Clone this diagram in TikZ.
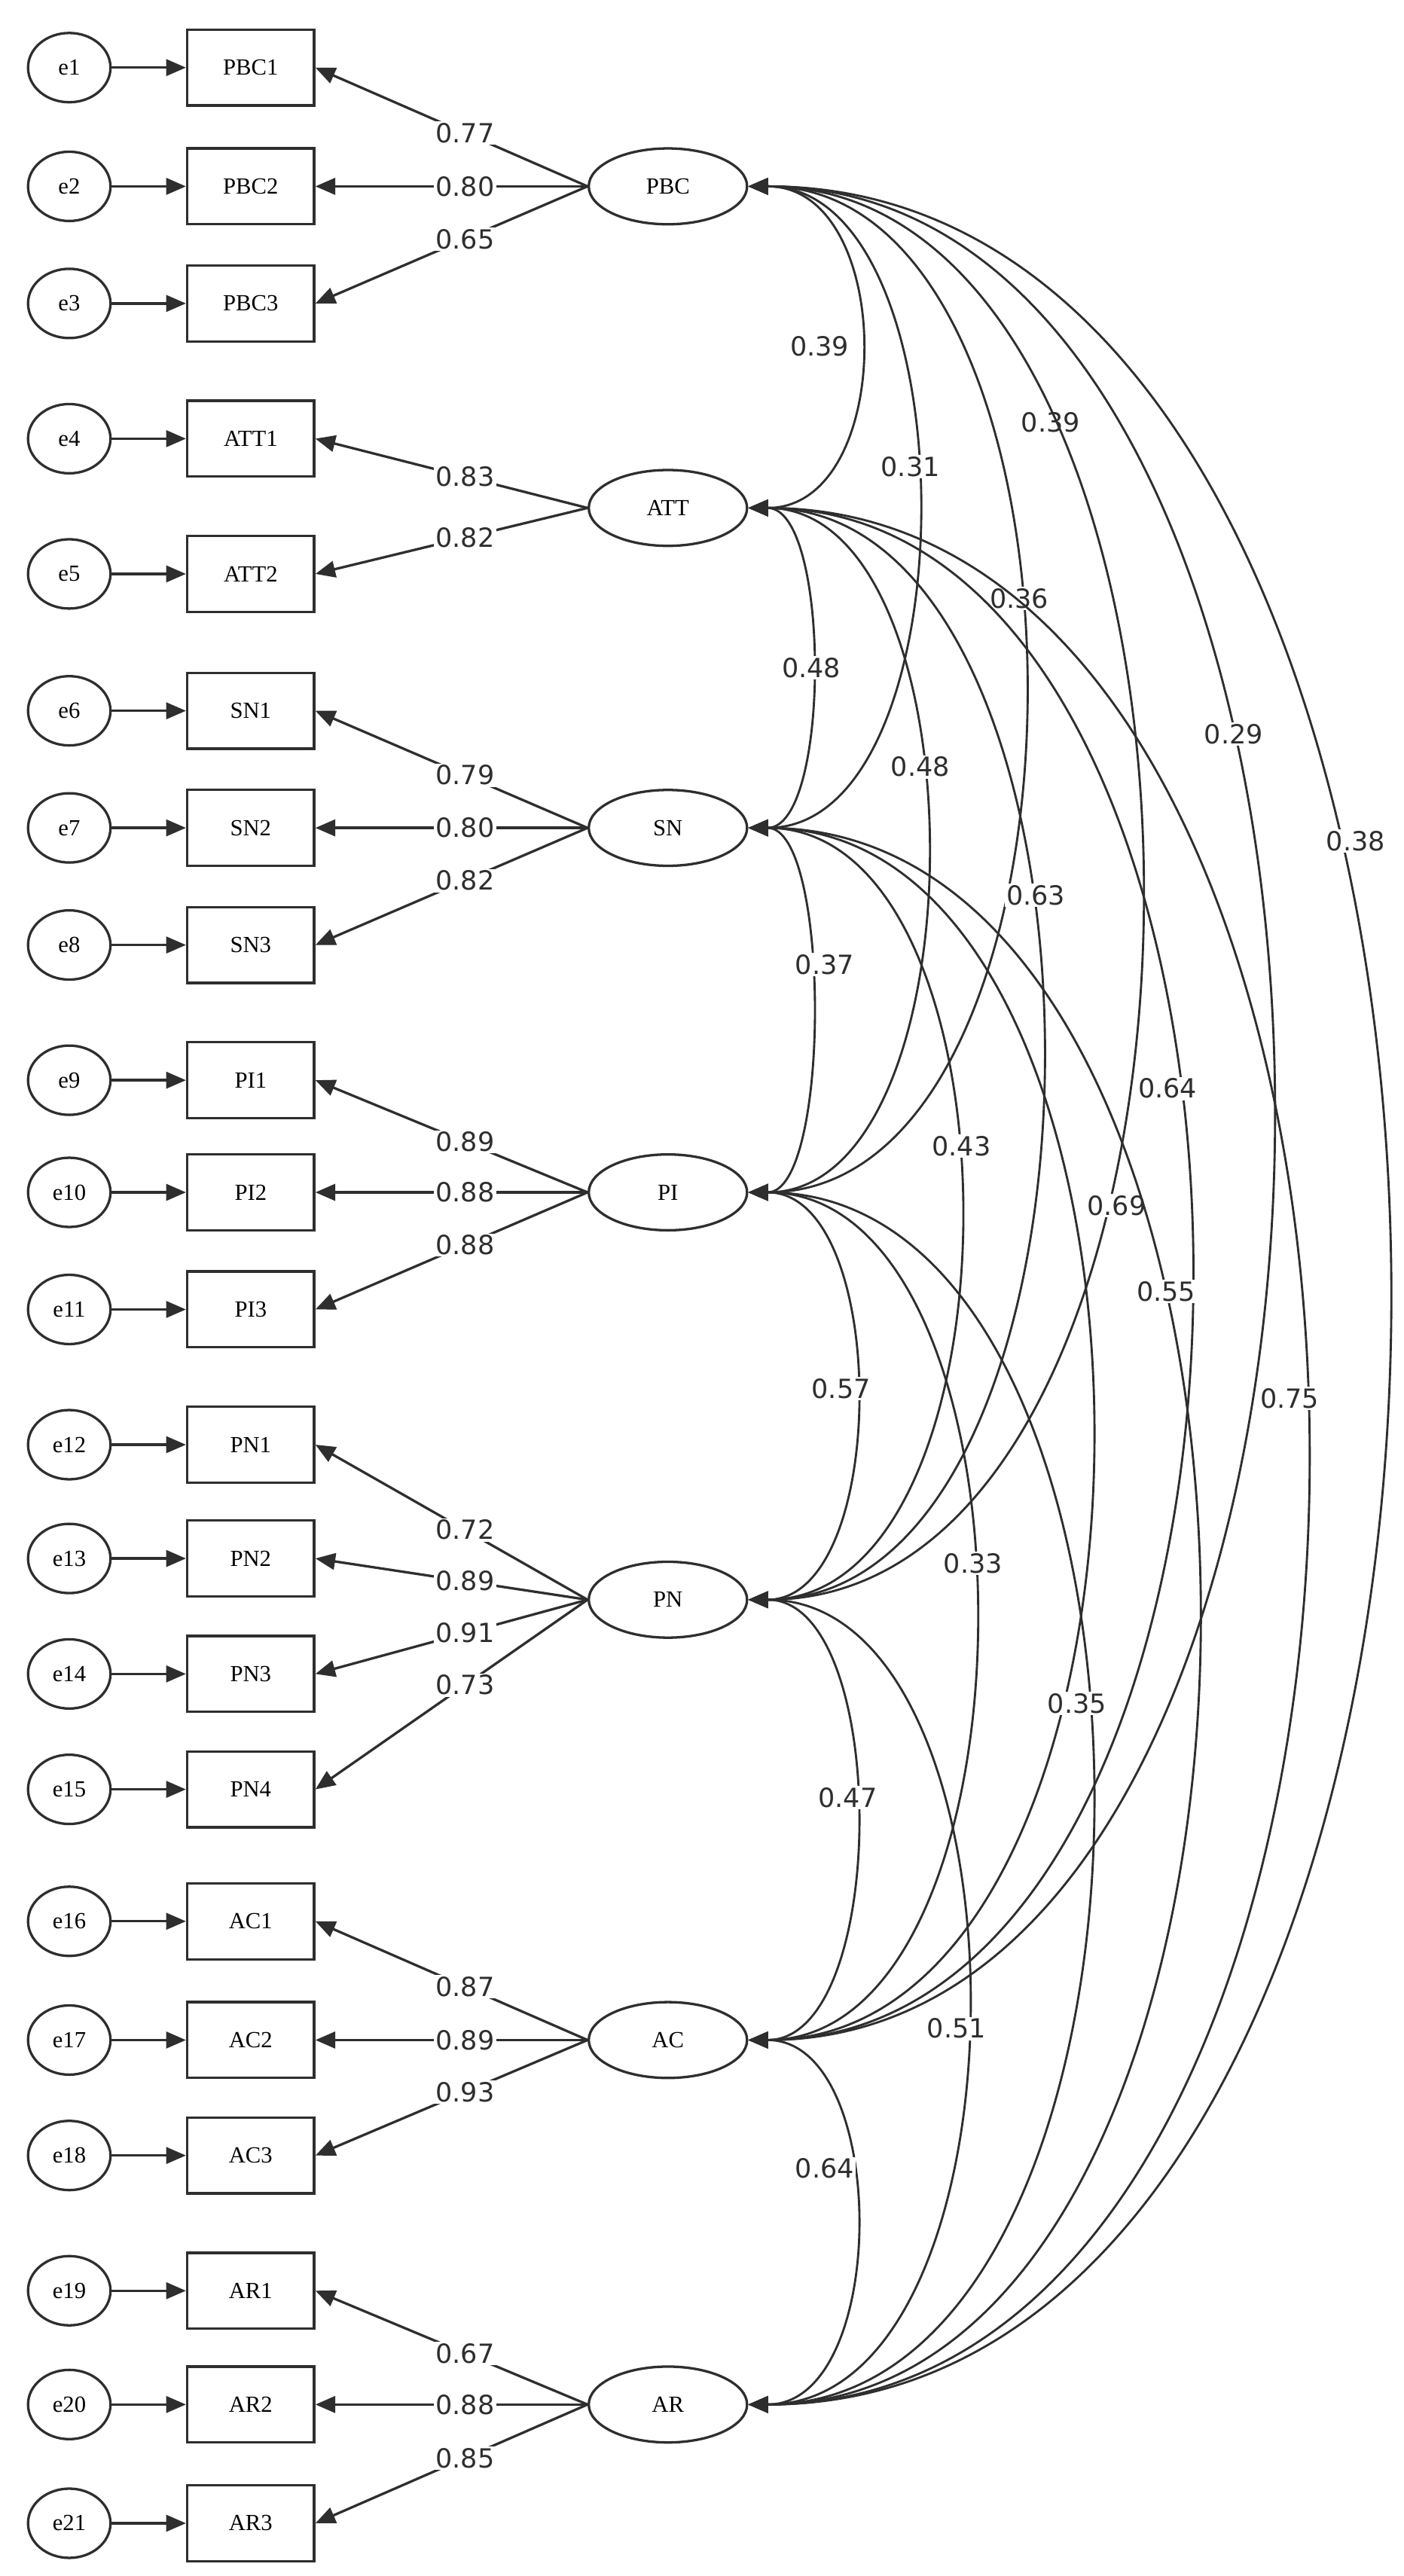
\documentclass[tikz,border=0pt]{standalone}
\usepackage{fontspec}
\setmainfont{Liberation Serif}
\newfontfamily\lab{DejaVu Sans}
\usetikzlibrary{arrows.meta,shapes.geometric,calc}
\definecolor{ink}{HTML}{2E2E2E}
\tikzset{
 err/.style={ellipse,draw=ink,line width=1.5pt,minimum width=50pt,minimum height=42pt,inner sep=0pt,font=\fontsize{14}{14}\selectfont},
 obs/.style={rectangle,draw=ink,line width=1.5pt,minimum width=77pt,minimum height=46pt,inner sep=0pt,font=\fontsize{14}{14}\selectfont},
 lat/.style={ellipse,draw=ink,line width=1.5pt,minimum width=96pt,minimum height=46pt,inner sep=0pt,font=\fontsize{14}{14}\selectfont},
 arr/.style={draw=ink,line width=1.5pt,-{Triangle[length=12pt,width=10pt]}},
 cv/.style={draw=ink,line width=1.3pt,{Triangle[length=12pt,width=10pt]}-{Triangle[length=12pt,width=10pt]}},
 lb/.style={fill=white,inner sep=1pt,font=\lab\fontsize{16}{16}\selectfont,text=ink}
}
\newcommand\covar[6]{%
 \draw[cv] (#1.east) .. controls ($(#1.east)+(#3,0)$) and ($(#2.east)+(#3,0)$) .. (#2.east);
 \node[lb] at (#4,#5) {#6};}
\begin{document}
\begin{tikzpicture}[x=1pt,y=-1pt]
\useasboundingbox (0,0) rectangle (851,1562);
\fill[white] (0,0) rectangle (851,1562);
% latents
\node[lat] (PBC) at (405,113) {PBC};
\node[lat] (ATT) at (405,308) {ATT};
\node[lat] (SN) at (405,502) {SN};
\node[lat] (PI) at (405,723) {PI};
\node[lat] (PN) at (405,970) {PN};
\node[lat] (AC) at (405,1237) {AC};
\node[lat] (AR) at (405,1458) {AR};
% indicators
\foreach \i/\n/\y/\L/\v in {
 1/PBC1/41/PBC/0.77, 2/PBC2/113/PBC/0.80, 3/PBC3/184/PBC/0.65,
 4/ATT1/266/ATT/0.83, 5/ATT2/348/ATT/0.82,
 6/SN1/431/SN/0.79, 7/SN2/502/SN/0.80, 8/SN3/573/SN/0.82,
 9/PI1/655/PI/0.89, 10/PI2/723/PI/0.88, 11/PI3/794/PI/0.88,
 12/PN1/876/PN/0.72, 13/PN2/945/PN/0.89, 14/PN3/1015/PN/0.91, 15/PN4/1085/PN/0.73,
 16/AC1/1165/AC/0.87, 17/AC2/1237/AC/0.89, 18/AC3/1307/AC/0.93,
 19/AR1/1389/AR/0.67, 20/AR2/1458/AR/0.88, 21/AR3/1530/AR/0.85}{
 \node[err] (e\i) at (42,\y) {e\i};
 \node[obs] (\n) at (152,\y) {\n};
 \draw[arr] (e\i) -- (\n);
 \draw[arr] (\L.west) -- node[lb,pos=0.45] {\v} (\n.east);
}
% covariances
\covar{PBC}{ATT}{90}{497}{210}{0.39}
\covar{PBC}{SN}{136}{552}{283}{0.31}
\covar{PBC}{PI}{222}{637}{256}{0.39}
\covar{PBC}{PN}{316}{618}{363}{0.36}
\covar{PBC}{AC}{422}{748}{445}{0.29}
\covar{PBC}{AR}{516}{822}{510}{0.38}
\covar{ATT}{SN}{50}{492}{405}{0.48}
\covar{ATT}{PI}{143}{558}{465}{0.48}
\covar{ATT}{PN}{236}{628}{543}{0.63}
\covar{ATT}{AC}{356}{708}{660}{0.64}
\covar{ATT}{AR}{450}{782}{848}{0.75}
\covar{SN}{PI}{50}{500}{585}{0.37}
\covar{SN}{PN}{170}{583}{695}{0.43}
\covar{SN}{AC}{276}{677}{731}{0.69}
\covar{SN}{AR}{362}{707}{783}{0.55}
\covar{PI}{PN}{86}{510}{842}{0.57}
\covar{PI}{AC}{182}{590}{948}{0.33}
\covar{PI}{AR}{276}{653}{1033}{0.35}
\covar{PN}{AC}{86}{514}{1090}{0.47}
\covar{PN}{AR}{176}{580}{1230}{0.51}
\covar{AC}{AR}{86}{500}{1315}{0.64}
\end{tikzpicture}
\end{document}
